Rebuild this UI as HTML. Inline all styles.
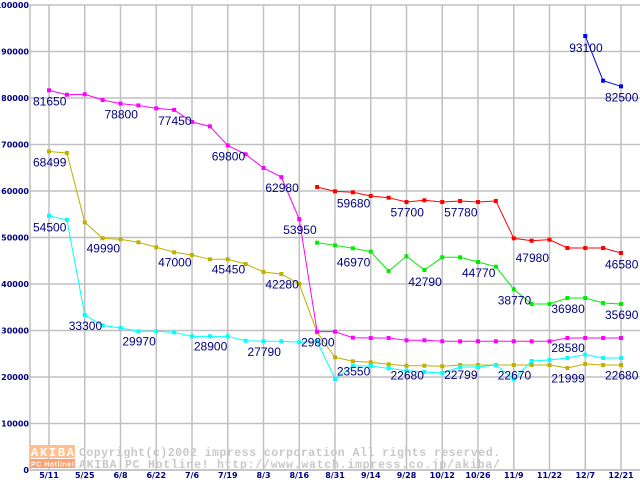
<!DOCTYPE html>
<html><head><meta charset="utf-8"><style>
html,body{margin:0;padding:0;background:#fff;}
svg{display:block;}
.ax{font-family:"DejaVu Sans","Liberation Sans",sans-serif;font-size:8px;font-weight:bold;fill:#000080;}
.lb{font-family:"Liberation Sans",sans-serif;font-size:12px;fill:#000080;}
.wm{font-family:"Liberation Mono",monospace;font-size:11.5px;font-weight:bold;fill:#c8c8c8;}
</style></head><body>
<svg id="chart" width="640" height="480" viewBox="0 0 640 480" xmlns="http://www.w3.org/2000/svg">
<rect x="0" y="0" width="640" height="480" fill="#fff"/>
<g id="grid"></g>
<g id="wm">
<rect x="30" y="445" width="45" height="13" fill="#ffc090"/>
<text x="31" y="456" font-family="Liberation Mono, monospace" font-weight="bold" font-size="12" fill="#fff" textLength="43">AKIBA</text>
<rect x="30" y="459" width="45" height="9" fill="#ffa070"/>
<text x="31" y="466.5" font-family="Liberation Sans, sans-serif" font-weight="bold" font-size="7" fill="#fff" textLength="43">PC Hotline!</text>
<text class="wm" x="79" y="456" textLength="421" lengthAdjust="spacing">Copyright(c)2002 impress corporation All rights reserved.</text>
<text class="wm" x="79" y="468" textLength="421" lengthAdjust="spacing">AKIBA PC Hotline!  http://www.watch.impress.co.jp/akiba/</text>
</g>
<g id="series"></g>
<g id="labels"></g>
</svg>
<script>
const xTickLabels=["5/11","5/25","6/8","6/22","7/6","7/19","8/3","8/16","8/31","9/14","9/28","10/12","10/26","11/9","11/22","12/7","12/21"];
const yTicks=[0,10000,20000,30000,40000,50000,60000,70000,80000,90000,100000];
const magenta=[81650,80700,80800,79570,78800,78400,77780,77450,74840,73900,69800,67900,64950,62980,53950,29750,29750,28450,28390,28390,27890,27890,27680,27680,27680,27680,27680,27680,27680,28390,28390,28390,28390];
const yellow=[68499,68170,53270,49830,49610,48970,47900,46820,46240,45310,45310,44300,42580,42150,40000,29600,24240,23380,23160,22730,22430,22430,22300,22580,22580,22580,22580,22580,22580,21930,22800,22580,22580];
const cyan=[54690,53760,33330,31110,30540,29830,29830,29610,28750,28750,28750,27800,27680,27680,27460,27680,19570,22370,22370,21860,21360,21080,20860,22150,22150,22580,19570,23440,23660,24090,24800,24090,24090];
const red=[null,null,null,null,null,null,null,null,null,null,null,null,null,null,null,60860,59930,59720,58920,58560,57630,58000,57630,57850,57630,57850,49830,49310,49530,47740,47740,47740,46670];
const green=[null,null,null,null,null,null,null,null,null,null,null,null,null,null,null,48890,48320,47680,46950,42800,45960,43010,45740,45740,44730,43720,38860,35700,35700,36990,36990,35910,35700];
const blue=[null,null,null,null,null,null,null,null,null,null,null,null,null,null,null,null,null,null,null,null,null,null,null,null,null,null,null,null,null,null,93330,83720,82510];
const labelIdx=[0,4,7,10,13,14,0,3,7,10,13,0,2,5,9,12,15,17,20,23,26,29,32,17,20,23,27,32,17,21,24,26,29,32,29,30,32];
const labelVal=[81650,78800,77450,69800,62980,53950,68499,49990,47000,45450,42280,54500,33300,29970,28900,27790,29800,23550,22680,22799,22670,21999,22680,59680,57700,57780,47980,46580,46970,42790,44770,38770,36980,35690,28580,93100,82500];

const NS="http://www.w3.org/2000/svg";
const X0=49,STEP=17.875,Y0=470,YTOP=5;
function xs(i){return X0+i*STEP;}
function ys(v){return Y0-(v/100000)*(Y0-YTOP);}
function mk(tag,attrs,parent){const e=document.createElementNS(NS,tag);for(const k in attrs)e.setAttribute(k,attrs[k]);parent.appendChild(e);return e;}
const grid=document.getElementById('grid');
yTicks.forEach(v=>{
  const l=mk('line',{x1:30,x2:640,y1:ys(v),y2:ys(v),stroke:'#c0c0c0','stroke-width':1.5},grid);
  
  
  const t=mk('text',{x:29,y:ys(v)+3,'text-anchor':'end',class:'ax'},grid);
  t.textContent=String(v);
  
  
});
xTickLabels.forEach((s,k)=>{
  const x=xs(k*2);
  const l=mk('line',{x1:x,x2:x,y1:YTOP,y2:Y0,stroke:'#c0c0c0','stroke-width':1.5},grid);
  
  
  const t=mk('text',{x:x,y:478,'text-anchor':'middle',class:'ax'},grid);
  t.textContent=s;
  
  
});
const ax=mk('line',{x1:30,x2:30,y1:YTOP,y2:Y0,stroke:'#c0c0c0','stroke-width':1.5},grid);


const bx=mk('line',{x1:30,x2:640,y1:Y0,y2:Y0,stroke:'#c0c0c0','stroke-width':1.5},grid);



const sg=document.getElementById('series');
const defs=[[yellow,'#c0b000','yellow'],[cyan,'#00ffff','cyan'],[magenta,'#ff00ff','magenta'],[green,'#00ee00','green'],[red,'#ff0000','red'],[blue,'#0000ff','blue']];
defs.forEach(([arr,col,nm])=>{
  let pts=[];
  arr.forEach((v,i)=>{if(v!==null)pts.push([xs(i),ys(v)]);});
  const p=mk('polyline',{points:pts.map(p=>p.join(',')).join(' '),fill:'none',stroke:col,'stroke-width':1},sg);
  
  
  pts.forEach(q=>{
    const r=mk('rect',{x:q[0]-2,y:q[1]-2,width:4,height:4,fill:col},sg);
    
    
  });
});
const lg=document.getElementById('labels');
labelIdx.forEach((i,k)=>{
  const t=mk('text',{x:xs(i)-16,y:ys(labelVal[k])+15,class:'lb'},lg);
  t.textContent=String(labelVal[k]);
  
  
});
</script>
</body></html>
